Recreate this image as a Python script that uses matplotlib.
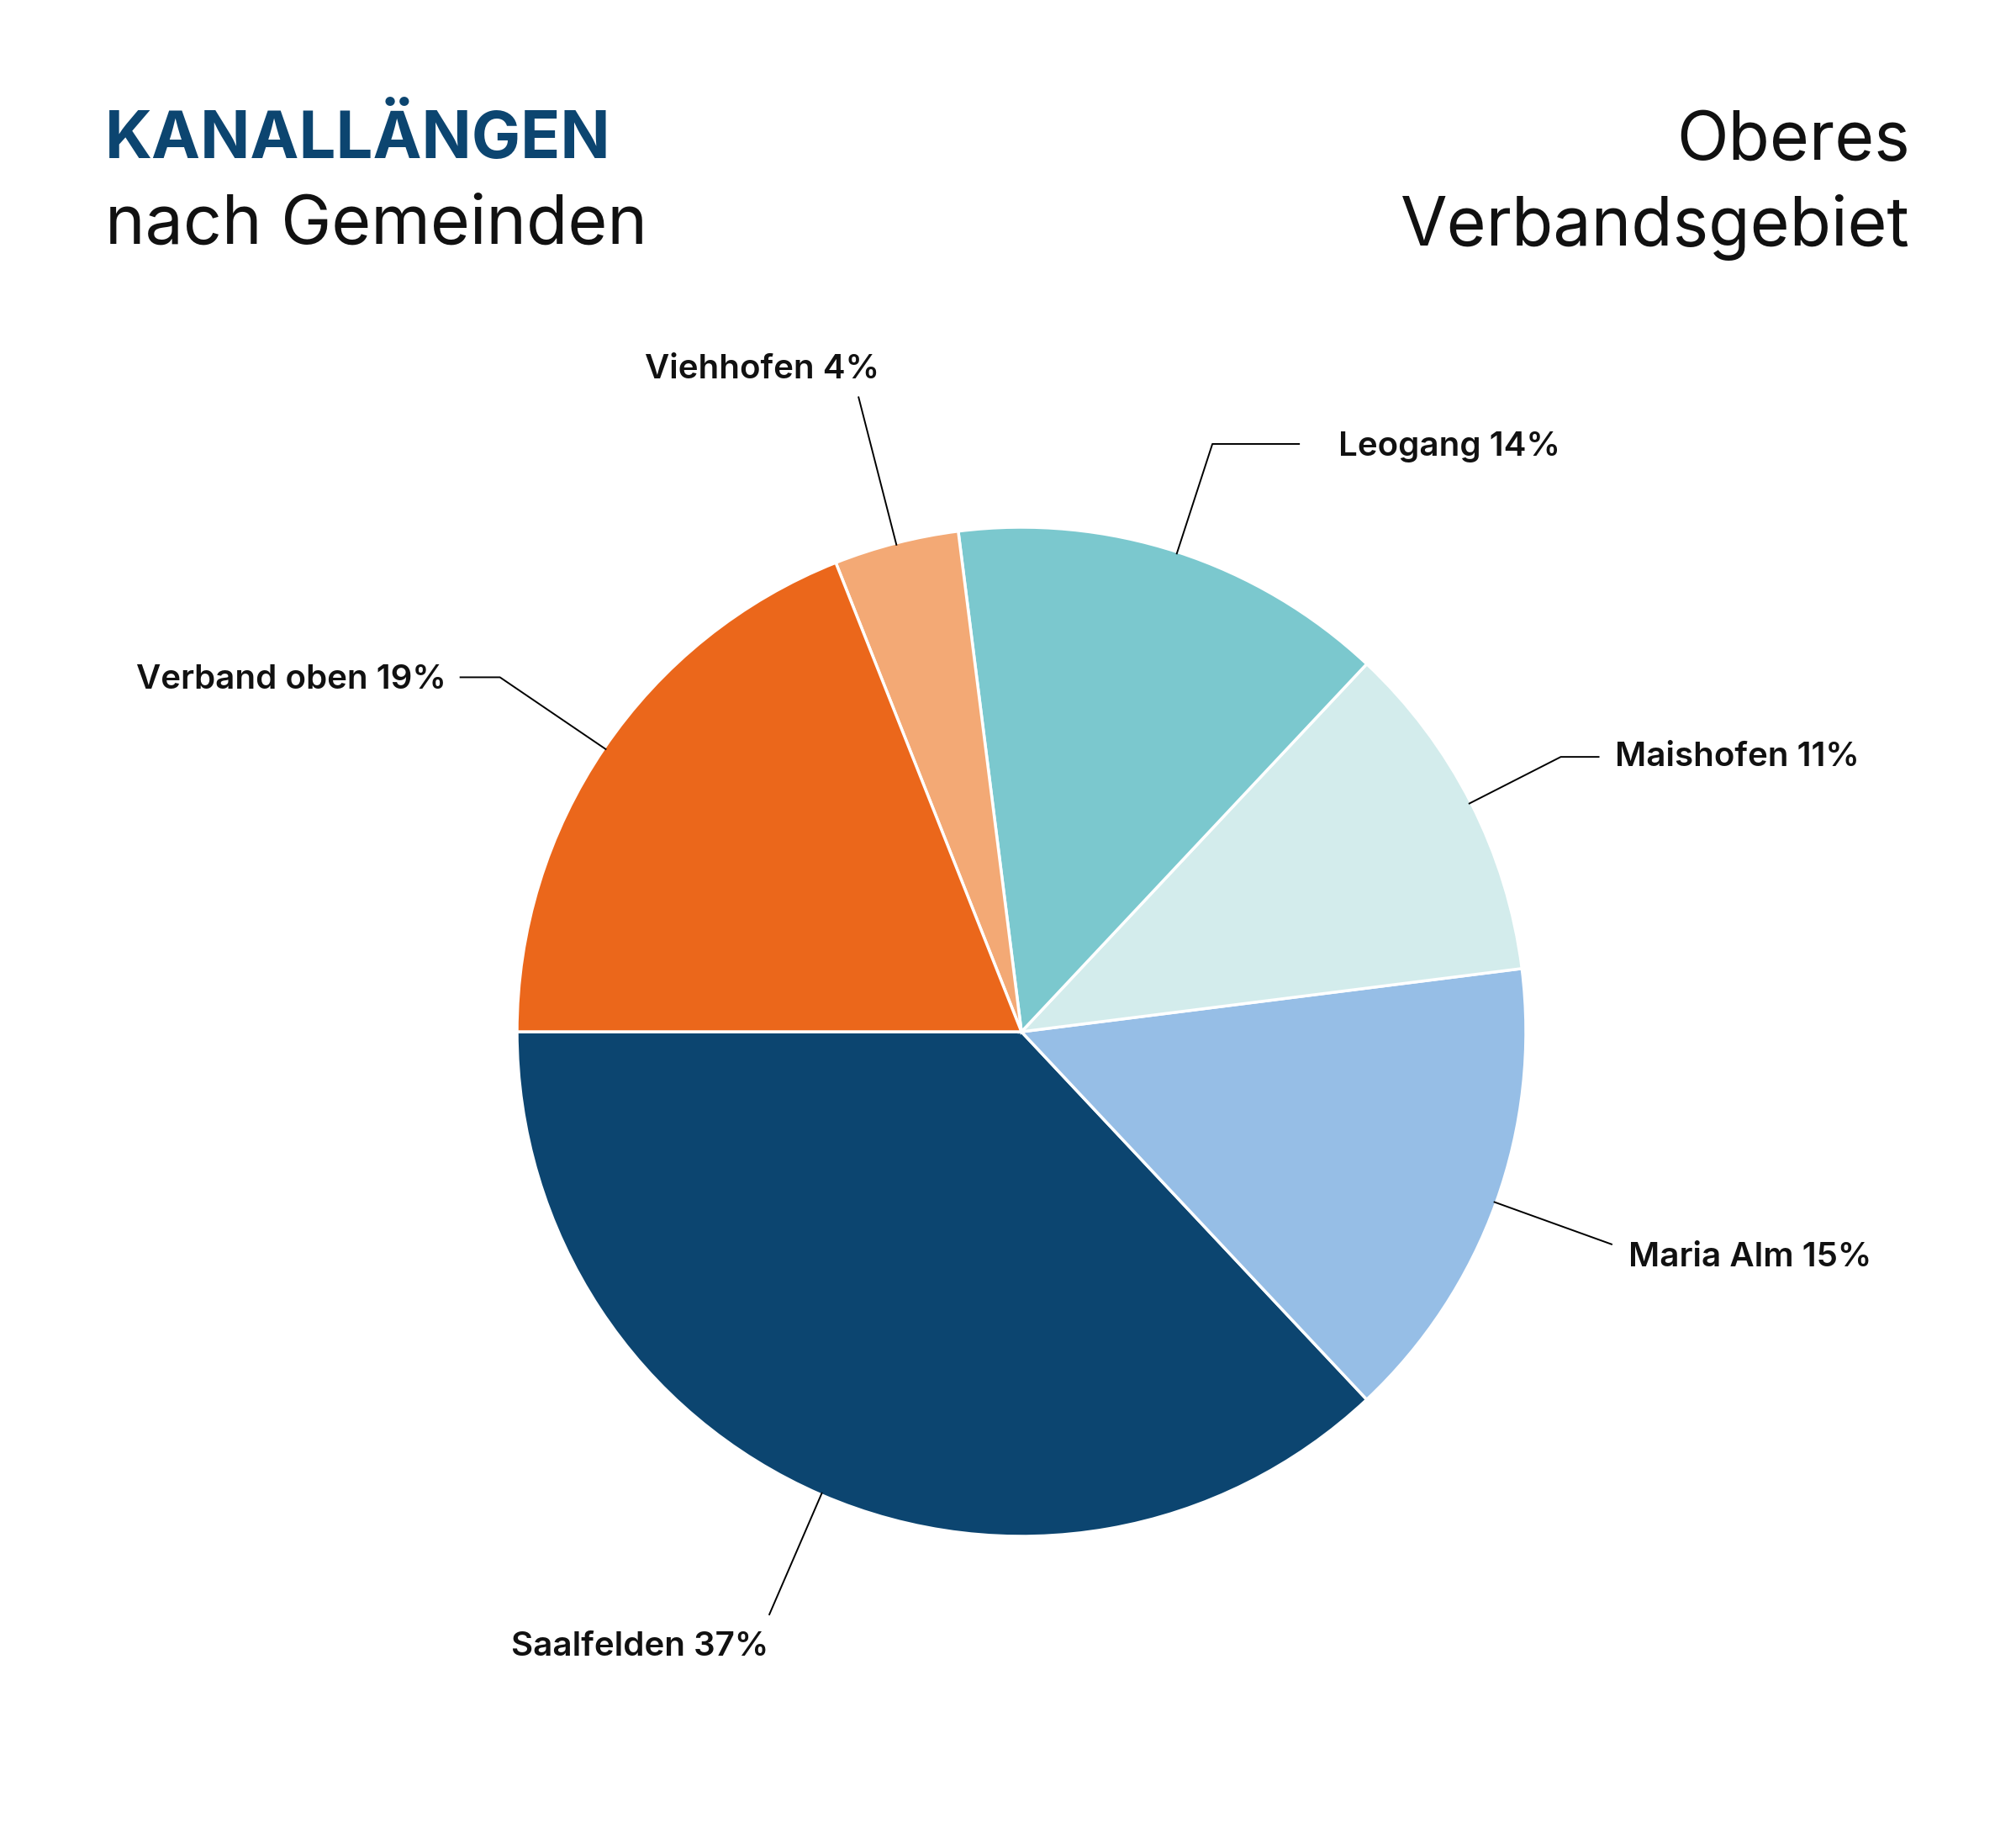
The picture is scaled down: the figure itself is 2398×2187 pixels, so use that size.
import matplotlib
matplotlib.use("Agg")
import matplotlib.pyplot as plt
import numpy as np

# ---- data ----
categories = ["Saalfelden", "Maria Alm", "Maishofen", "Leogang", "Viehhofen", "Verband oben"]
shares = [37, 15, 11, 14, 4, 19]
colors = ["#0c4570", "#96bee6", "#d3ecec", "#7bc8ce", "#f3a975", "#eb671b"]
title_main = "KANALLÄNGEN"
title_sub = "nach Gemeinden"
title_right = ["Oberes", "Verbandsgebiet"]

# ---- layout / style (pixels) ----
W, H = 2398, 2187
CX, CY, R = 1215, H - 1227, 600
FONT = ["Inter", "DejaVu Sans"]

# per label: radial end factor, horizontal segment, text gap, baseline offset, ha
leader = {
    "Saalfelden":   dict(r=1.26, h=0,   gap=0,   dy=-48, ha="right"),
    "Maria Alm":    dict(r=1.245, h=0,  gap=19,  dy=-26, ha="left"),
    "Maishofen":    dict(r=1.20, h=46,  gap=18,  dy=-11, ha="left"),
    "Leogang":      dict(r=1.225, h=104, gap=46, dy=-14, ha="left"),
    "Viehhofen":    dict(r=1.30, h=0,   gap=25,  dy=22,  ha="right"),
    "Verband oben": dict(r=1.25, h=-48, gap=-16, dy=-14, ha="right"),
}

fig = plt.figure(figsize=(W / 100, H / 100), dpi=100)
ax = fig.add_axes([0, 0, 1, 1])
wedges, _ = ax.pie(shares, colors=colors, startangle=180, counterclock=True,
                   radius=R, center=(CX, CY),
                   wedgeprops=dict(edgecolor="white", linewidth=2.5))
ax.set_xlim(0, W)
ax.set_ylim(0, H)
ax.set_aspect("equal")
ax.axis("off")

for w, cat, val in zip(wedges, categories, shares):
    ang = np.deg2rad((w.theta1 + w.theta2) / 2)
    p = leader[cat]
    x0, y0 = CX + R * 0.995 * np.cos(ang), CY + R * 0.995 * np.sin(ang)
    x1, y1 = CX + R * p["r"] * np.cos(ang), CY + R * p["r"] * np.sin(ang)
    xs, ys = [x0, x1], [y0, y1]
    if p["h"]:
        xs.append(x1 + p["h"]); ys.append(y1)
    ax.plot(xs, ys, color="black", lw=1.4, solid_capstyle="butt")
    tx = xs[-1] + p["gap"]
    ty = ys[-1] + p["dy"]
    ax.text(tx, ty, f"{cat} {val}%", ha=p["ha"], va="baseline",
            fontsize=29, fontweight="semibold", family=FONT, color="#111111")

# titles
ax.text(125, H - 188, title_main, ha="left", va="baseline", fontsize=56,
        fontweight="bold", family=FONT, color="#0c4570")
ax.text(125, H - 290, title_sub, ha="left", va="baseline", fontsize=58,
        fontweight="normal", family=FONT, color="#111111")
ax.text(2272, H - 190, title_right[0], ha="right", va="baseline", fontsize=58,
        fontweight="normal", family=FONT, color="#111111")
ax.text(2272, H - 292, title_right[1], ha="right", va="baseline", fontsize=58,
        fontweight="normal", family=FONT, color="#111111")

fig.savefig("out.png", dpi=100, facecolor="white")
